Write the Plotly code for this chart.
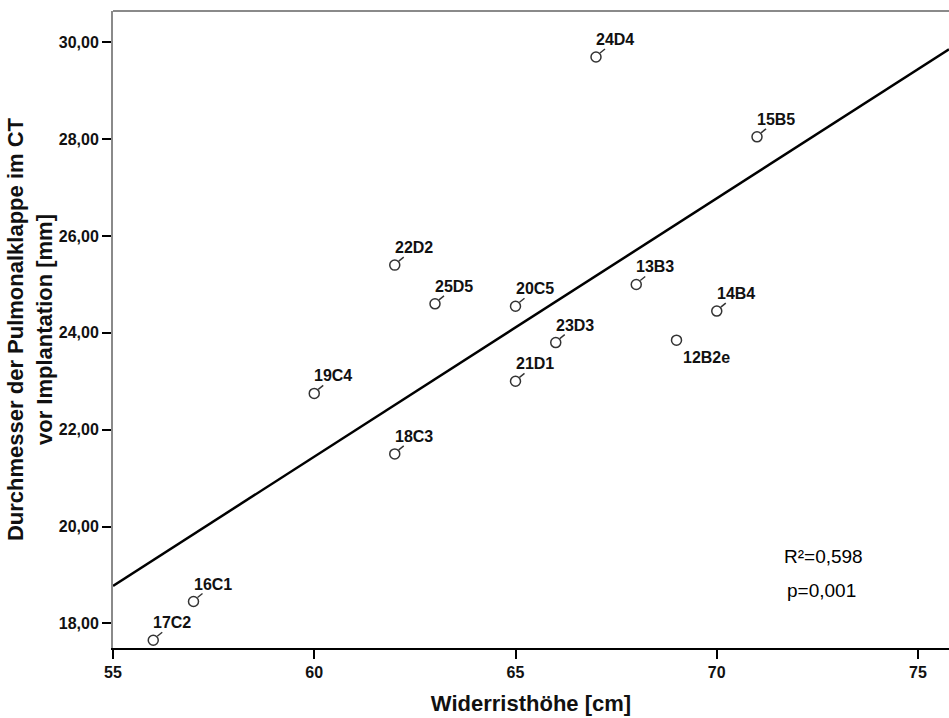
import numpy as np
import plotly.graph_objects as go

# Data
labels = ["17C2", "16C1", "19C4", "18C3", "22D2", "25D5", "20C5", "21D1",
          "23D3", "13B3", "24D4", "15B5", "14B4", "12B2e"]
widerrist = [56, 57, 60, 62, 62, 63, 65, 65, 66, 68, 67, 71, 70, 69]
durchmesser = [17.65, 18.45, 22.75, 21.50, 25.40, 24.60, 24.55, 23.00,
               23.80, 25.00, 29.70, 28.05, 24.45, 23.85]
labels_below = ["12B2e"]
x_ticks = [55, 60, 65, 70, 75]
y_ticks = [18, 20, 22, 24, 26, 28, 30]
x_range = [55, 75.77]
y_range = [17.49, 30.65]
r2_text = "R²=0,598"
p_text = "p=0,001"

FONT = "Liberation Sans, Arial, sans-serif"

# Linear regression fit
slope, intercept = np.polyfit(widerrist, durchmesser, 1)
fit_x = np.array(x_range)
fit_y = slope * fit_x + intercept

fig = go.Figure()
fig.add_trace(go.Scatter(
    x=fit_x, y=fit_y, mode="lines",
    line=dict(color="#000000", width=2.5), hoverinfo="skip", showlegend=False))
fig.add_trace(go.Scatter(
    x=widerrist, y=durchmesser, mode="markers", text=labels,
    marker=dict(symbol="circle-open", size=10, color="#333333",
                line=dict(width=1.5, color="#333333")),
    showlegend=False))

annotations = []
shapes = []
for lab, xv, yv in zip(labels, widerrist, durchmesser):
    if lab in labels_below:
        annotations.append(dict(x=xv, y=yv, xref="x", yref="y", text=lab,
                                showarrow=False, xanchor="left", yanchor="top",
                                xshift=4, yshift=-7,
                                font=dict(family=FONT, size=16, color="#111111", weight="bold")))
    else:
        annotations.append(dict(x=xv, y=yv, xref="x", yref="y", text=lab,
                                showarrow=False, xanchor="left", yanchor="bottom",
                                xshift=-2, yshift=7,
                                font=dict(family=FONT, size=16, color="#111111", weight="bold")))
        shapes.append(dict(type="line", xref="x", yref="y",
                           xsizemode="pixel", ysizemode="pixel",
                           xanchor=xv, yanchor=yv,
                           x0=4, y0=4, x1=9, y1=8,
                           line=dict(color="#333333", width=1.5)))

W, H = 949, 718
ml, mr, mt, mb = 113, 0, 11, 70
pw, ph = W - ml - mr, H - mt - mb

def px_to_paper(px, py):
    return (px - ml) / pw, 1 - (py - mt) / ph

for txt, (px, py) in [(r2_text, (823, 556)), (p_text, (821, 590))]:
    xp, yp = px_to_paper(px, py)
    annotations.append(dict(x=xp, y=yp, xref="paper", yref="paper", text=txt,
                            showarrow=False, xanchor="center", yanchor="middle",
                            font=dict(family=FONT, size=19, color="#000000")))

# top frame line
shapes.append(dict(type="line", xref="paper", yref="paper", x0=0, x1=1, y0=1, y1=1,
                   line=dict(color="#8a8a8a", width=2)))

fig.update_layout(
    width=W, height=H,
    margin=dict(l=ml, r=mr, t=mt, b=mb, autoexpand=False),
    paper_bgcolor="white", plot_bgcolor="white",
    separators=",.",
    annotations=annotations, shapes=shapes,
    xaxis=dict(range=x_range, tickvals=x_ticks, ticks="outside", ticklen=9,
               tickwidth=1.5, tickcolor="#000000", automargin=False,
               showline=True, linecolor="#000000", linewidth=2, showgrid=False,
               zeroline=False,
               tickfont=dict(family=FONT, size=16, color="#111111", weight="bold"),
               title=dict(text="Widerristhöhe [cm]", standoff=15,
                          font=dict(family=FONT, size=22, color="#111111", weight="bold"))),
    yaxis=dict(range=y_range, tickvals=y_ticks, tickformat=".2f", ticks="outside",
               ticklen=9, tickwidth=1.5, tickcolor="#000000", automargin=False,
               showline=True, linecolor="#8a8a8a", linewidth=2, showgrid=False,
               zeroline=False,
               tickfont=dict(family=FONT, size=16, color="#111111", weight="bold"),
               title=dict(text="Durchmesser der Pulmonalklappe im CT<br>vor Implantation [mm]",
                          standoff=0,
                          font=dict(family=FONT, size=22, color="#111111", weight="bold"))),
)

fig.write_html("out.html", config={"displayModeBar": False},
               post_script="document.body.style.margin='0';document.body.style.overflow='hidden';")
